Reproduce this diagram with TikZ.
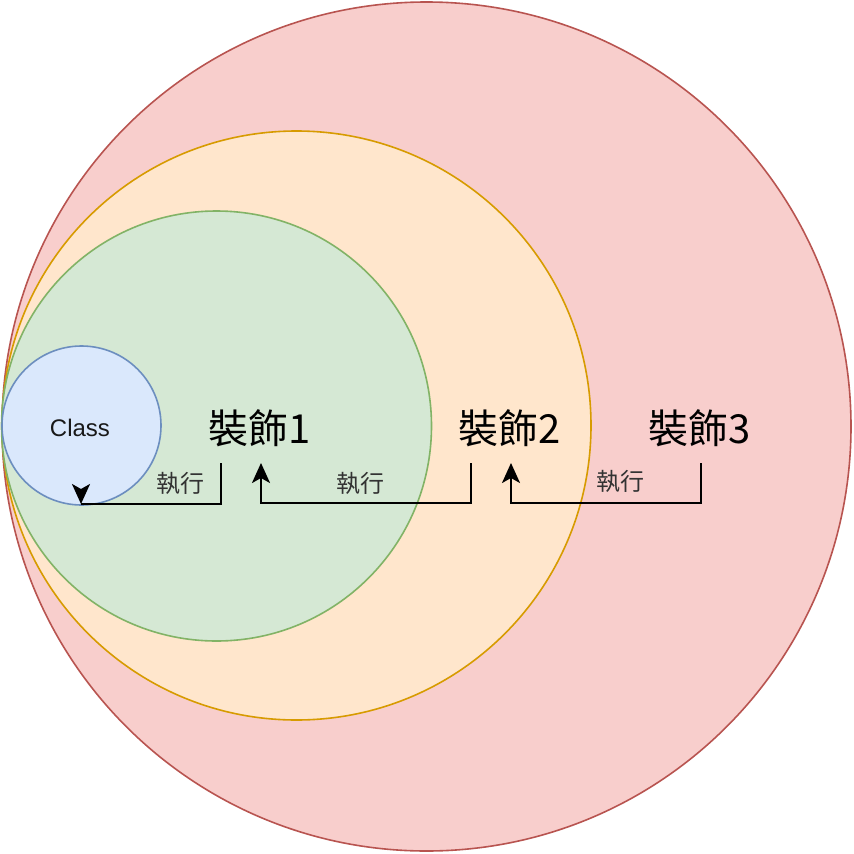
\documentclass[tikz,border=0pt]{standalone}
\usepackage{fontspec}
\setmainfont{Liberation Sans}
\newfontfamily\cjk{Noto Sans CJK TC}
\usetikzlibrary{arrows.meta}
\definecolor{redf}{HTML}{F8CECC}\definecolor{redd}{HTML}{B85450}
\definecolor{oraf}{HTML}{FFE6CC}\definecolor{orad}{HTML}{D79B00}
\definecolor{gref}{HTML}{D5E8D4}\definecolor{gred}{HTML}{82B366}
\definecolor{bluf}{HTML}{DAE8FC}\definecolor{blud}{HTML}{6C8EBF}
\definecolor{lbl}{HTML}{333333}
\begin{document}
\begin{tikzpicture}[x=1pt,y=-1pt,
  ring/.style={circle,inner sep=0pt,line width=1.6pt},
  deco/.style={font=\cjk\fontsize{40}{40}\selectfont,text=black,inner sep=0pt},
  exec/.style={font=\cjk\fontsize{24}{24}\selectfont,text=lbl,inner sep=0pt},
  conn/.style={line width=2.2pt},
  tip/.style={-{Stealth[length=20pt,width=18pt,inset=5pt]},line width=2.2pt}]
\useasboundingbox (0,0) rectangle (854,854);
\node[ring,draw=redd,fill=redf,minimum size=849pt] (c3) at (426.5,426.5) {};
\node[ring,draw=orad,fill=oraf,minimum size=589pt] (c2) at (296.5,425.5) {};
\node[ring,draw=gred,fill=gref,minimum size=430pt] (c1) at (216.5,426) {};
\node[ring,draw=blud,fill=bluf,minimum size=159pt] (cl) at (81.5,425.5) {};
\node[font=\fontsize{24}{24}\selectfont,text=black!90] (cls) at (80,428) {Class};
\node[deco] (d1) at (260,428) {裝飾1};
\node[deco] (d2) at (510,428) {裝飾2};
\node[deco] (d3) at (700,428) {裝飾3};
\coordinate (s1) at (221,463);
\coordinate (s2) at (471,463);
\coordinate (s3) at (701,463);
\coordinate (e1) at (81,504);
\coordinate (e2) at (261,463);
\coordinate (e3) at (511,463);
\draw[conn] (s1) |- (e1);
\draw[tip] ([yshift=14pt]e1) -- (e1);
\draw[conn,tip] (s2) |- (e2 |- 0,503) -- (e2);
\draw[conn,tip] (s3) |- (e3 |- 0,503) -- (e3);
\node[exec] (l1) at (180,483) {執行};
\node[exec] (l2) at (360,483) {執行};
\node[exec] (l3) at (620,481) {執行};
\end{tikzpicture}
\end{document}
